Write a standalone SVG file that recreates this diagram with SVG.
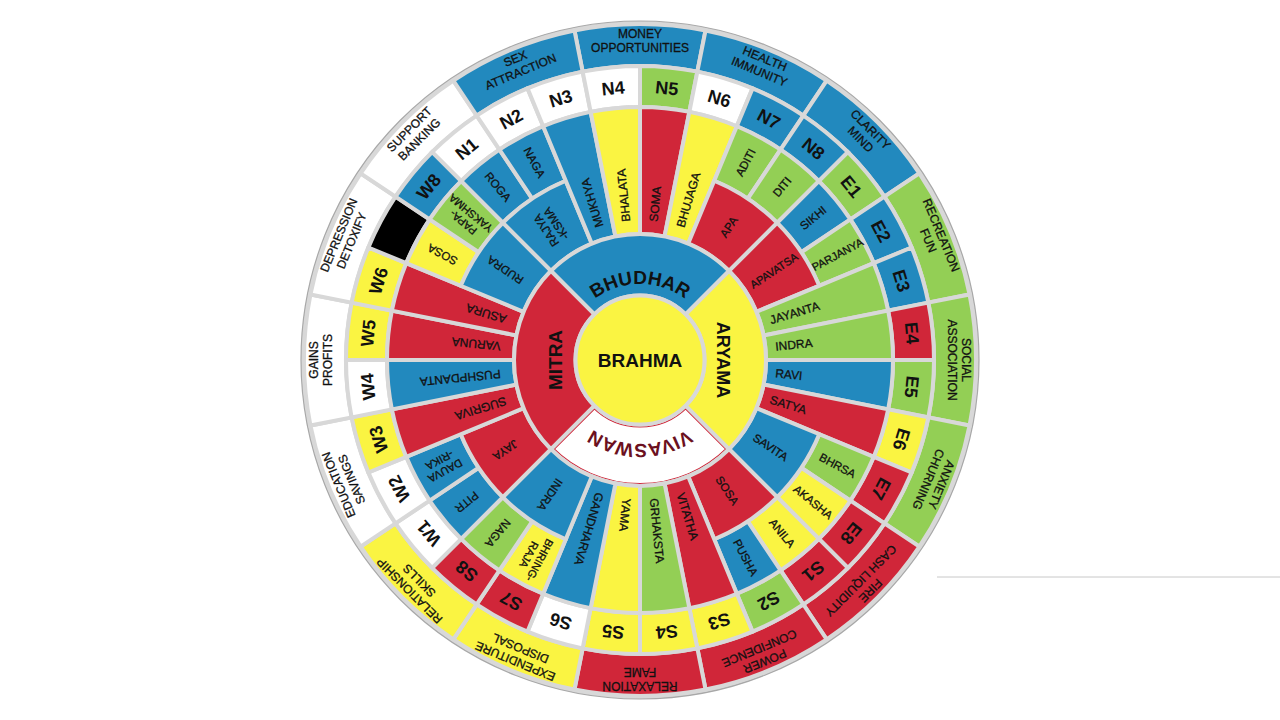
<svg xmlns="http://www.w3.org/2000/svg" width="1280" height="720" viewBox="0 0 1280 720">
<style>
.cell{stroke:#d8d8d8;stroke-width:4;stroke-linejoin:miter}
.b{fill:#2289be}.r{fill:#d02639}.y{fill:#faf442}.g{fill:#93cf55}.w{fill:#ffffff}.k{fill:#000000}
text{font-family:"Liberation Sans",Arial,sans-serif;fill:#111}
.z{font-size:12px;text-anchor:middle;stroke:#111;stroke-width:0.3}
.p{font-size:18px;font-weight:bold;text-anchor:middle}
.d{font-size:12px;text-anchor:start;stroke:#111;stroke-width:0.3}
.dm{font-size:11.5px;text-anchor:middle;stroke:#111;stroke-width:0.3}
.m{font-size:19px;font-weight:bold;text-anchor:middle}
</style>
<defs>
<path id="zone" d="M574.449,30.456 A336,336 0 0,1 705.551,30.456 L697.356,71.649 A294,294 0 0,0 582.644,71.649 Z"/>
<path id="pada" d="M640,66 A294,294 0 0,1 697.356,71.649 L689.358,111.861 A253,253 0 0,0 640,107 Z"/>
<path id="df" d="M640,107 A253,253 0 0,1 689.358,111.861 L664.581,236.421 A126,126 0 0,0 640,234 Z"/>
<path id="dco" d="M640,107 A253,253 0 0,1 689.358,111.861 L677.847,169.728 A194,194 0 0,0 640,166 Z"/>
<path id="dci" d="M640,166 A194,194 0 0,1 714.240,180.767 L688.218,243.591 A126,126 0 0,0 640,234 Z"/>
<path id="main" d="M550.905,270.905 A126,126 0 0,1 729.095,270.905 L685.608,314.392 A64.5,64.5 0 0,0 594.392,314.392 Z"/>
<path id="arcTop" d="M586.26,306.26 A76,76 0 0,1 693.74,306.26"/>
<path id="arcBot" d="M699.397,419.397 A84,84 0 0,1 580.603,419.397"/>
</defs>
<rect width="1280" height="720" fill="#ffffff"/>
<line x1="937" y1="577" x2="1280" y2="577" stroke="#c8c8c8" stroke-width="1"/>
<circle cx="640" cy="360" r="339" fill="#d8d8d8" stroke="#a8a8a8" stroke-width="1.2"/>

<g id="vivaswan">
<use href="#main" transform="rotate(180 640 360)" fill="#ffffff" stroke="#d02639" stroke-width="6"/>
<use href="#main" transform="rotate(180 640 360)" fill="none" stroke="#d8d8d8" stroke-width="4"/>
<text style="font-size:19px;font-weight:bold;fill:#6b1020;text-anchor:middle"><textPath href="#arcBot" startOffset="50%">VIVASWAN</textPath></text>
</g>

<g id="zones">
<g id="zone-n"><use href="#zone" class="cell b"/><text class="z"><tspan x="640" y="38">MONEY</tspan><tspan x="640" y="52">OPPORTUNITIES</tspan></text></g>
<g id="zone-nne"><use href="#zone" class="cell b" transform="rotate(22.5 640 360)"/><text class="z" transform="rotate(22.5 640 360)"><tspan x="640" y="38">HEALTH</tspan><tspan x="640" y="52">IMMUNITY</tspan></text></g>
<g id="zone-ne"><use href="#zone" class="cell b" transform="rotate(45 640 360)"/><text class="z" transform="rotate(45 640 360)"><tspan x="640" y="38">CLARITY</tspan><tspan x="640" y="52">MIND</tspan></text></g>
<g id="zone-ene"><use href="#zone" class="cell g" transform="rotate(67.5 640 360)"/><text class="z" transform="rotate(67.5 640 360)"><tspan x="640" y="38">RECREATION</tspan><tspan x="640" y="52">FUN</tspan></text></g>
<g id="zone-e"><use href="#zone" class="cell g" transform="rotate(90 640 360)"/><text class="z" transform="rotate(90 640 360)"><tspan x="640" y="38">SOCIAL</tspan><tspan x="640" y="52">ASSOCIATION</tspan></text></g>
<g id="zone-ese"><use href="#zone" class="cell g" transform="rotate(112.5 640 360)"/><text class="z" transform="rotate(112.5 640 360)"><tspan x="640" y="38">ANXIETY</tspan><tspan x="640" y="52">CHURNING</tspan></text></g>
<g id="zone-se"><use href="#zone" class="cell r" transform="rotate(135 640 360)"/><text class="z" transform="rotate(135 640 360)"><tspan x="640" y="38">FIRE</tspan><tspan x="640" y="52">CASH LIQUIDITY</tspan></text></g>
<g id="zone-sse"><use href="#zone" class="cell r" transform="rotate(157.5 640 360)"/><text class="z" transform="rotate(157.5 640 360)"><tspan x="640" y="38">POWER</tspan><tspan x="640" y="52">CONFIDENCE</tspan></text></g>
<g id="zone-s"><use href="#zone" class="cell r" transform="rotate(180 640 360)"/><text class="z" transform="rotate(180 640 360)"><tspan x="640" y="38">RELAXATION</tspan><tspan x="640" y="52">FAME</tspan></text></g>
<g id="zone-ssw"><use href="#zone" class="cell y" transform="rotate(202.5 640 360)"/><text class="z" transform="rotate(202.5 640 360)"><tspan x="640" y="38">EXPENDITURE</tspan><tspan x="640" y="52">DISPOSAL</tspan></text></g>
<g id="zone-sw"><use href="#zone" class="cell y" transform="rotate(225 640 360)"/><text class="z" transform="rotate(225 640 360)"><tspan x="640" y="38">RELATIONSHIP</tspan><tspan x="640" y="52">SKILLS</tspan></text></g>
<g id="zone-wsw"><use href="#zone" class="cell w" transform="rotate(247.5 640 360)"/><text class="z" transform="rotate(247.5 640 360)"><tspan x="640" y="38">EDUCATION</tspan><tspan x="640" y="52">SAVINGS</tspan></text></g>
<g id="zone-w"><use href="#zone" class="cell w" transform="rotate(270 640 360)"/><text class="z" transform="rotate(270 640 360)"><tspan x="640" y="38">GAINS</tspan><tspan x="640" y="52">PROFITS</tspan></text></g>
<g id="zone-wnw"><use href="#zone" class="cell w" transform="rotate(292.5 640 360)"/><text class="z" transform="rotate(292.5 640 360)"><tspan x="640" y="38">DEPRESSION</tspan><tspan x="640" y="52">DETOXIFY</tspan></text></g>
<g id="zone-nw"><use href="#zone" class="cell w" transform="rotate(315 640 360)"/><text class="z" transform="rotate(315 640 360)"><tspan x="640" y="38">SUPPORT</tspan><tspan x="640" y="52">BANKING</tspan></text></g>
<g id="zone-nnw"><use href="#zone" class="cell b" transform="rotate(337.5 640 360)"/><text class="z" transform="rotate(337.5 640 360)"><tspan x="640" y="38">SEX</tspan><tspan x="640" y="52">ATTRACTION</tspan></text></g>
</g>

<g id="padas">
<g id="pada-n1"><use href="#pada" class="cell w" transform="rotate(-45 640 360)"/><text class="p" transform="rotate(-39.375 640 360)" x="640" y="93">N1</text></g>
<g id="pada-n2"><use href="#pada" class="cell w" transform="rotate(-33.75 640 360)"/><text class="p" transform="rotate(-28.125 640 360)" x="640" y="93">N2</text></g>
<g id="pada-n3"><use href="#pada" class="cell w" transform="rotate(-22.5 640 360)"/><text class="p" transform="rotate(-16.875 640 360)" x="640" y="93">N3</text></g>
<g id="pada-n4"><use href="#pada" class="cell w" transform="rotate(-11.25 640 360)"/><text class="p" transform="rotate(-5.625 640 360)" x="640" y="93">N4</text></g>
<g id="pada-n5"><use href="#pada" class="cell g"/><text class="p" transform="rotate(5.625 640 360)" x="640" y="93">N5</text></g>
<g id="pada-n6"><use href="#pada" class="cell w" transform="rotate(11.25 640 360)"/><text class="p" transform="rotate(16.875 640 360)" x="640" y="93">N6</text></g>
<g id="pada-n7"><use href="#pada" class="cell b" transform="rotate(22.5 640 360)"/><text class="p" transform="rotate(28.125 640 360)" x="640" y="93">N7</text></g>
<g id="pada-n8"><use href="#pada" class="cell b" transform="rotate(33.75 640 360)"/><text class="p" transform="rotate(39.375 640 360)" x="640" y="93">N8</text></g>
<g id="pada-e1"><use href="#pada" class="cell g" transform="rotate(45 640 360)"/><text class="p" transform="rotate(50.625 640 360)" x="640" y="93">E1</text></g>
<g id="pada-e2"><use href="#pada" class="cell b" transform="rotate(56.25 640 360)"/><text class="p" transform="rotate(61.875 640 360)" x="640" y="93">E2</text></g>
<g id="pada-e3"><use href="#pada" class="cell b" transform="rotate(67.5 640 360)"/><text class="p" transform="rotate(73.125 640 360)" x="640" y="93">E3</text></g>
<g id="pada-e4"><use href="#pada" class="cell r" transform="rotate(78.75 640 360)"/><text class="p" transform="rotate(84.375 640 360)" x="640" y="93">E4</text></g>
<g id="pada-e5"><use href="#pada" class="cell g" transform="rotate(90 640 360)"/><text class="p" transform="rotate(95.625 640 360)" x="640" y="93">E5</text></g>
<g id="pada-e6"><use href="#pada" class="cell y" transform="rotate(101.25 640 360)"/><text class="p" transform="rotate(106.875 640 360)" x="640" y="93">E6</text></g>
<g id="pada-e7"><use href="#pada" class="cell r" transform="rotate(112.5 640 360)"/><text class="p" transform="rotate(118.125 640 360)" x="640" y="93">E7</text></g>
<g id="pada-e8"><use href="#pada" class="cell r" transform="rotate(123.75 640 360)"/><text class="p" transform="rotate(129.375 640 360)" x="640" y="93">E8</text></g>
<g id="pada-s1"><use href="#pada" class="cell r" transform="rotate(135 640 360)"/><text class="p" transform="rotate(140.625 640 360)" x="640" y="93">S1</text></g>
<g id="pada-s2"><use href="#pada" class="cell g" transform="rotate(146.25 640 360)"/><text class="p" transform="rotate(151.875 640 360)" x="640" y="93">S2</text></g>
<g id="pada-s3"><use href="#pada" class="cell y" transform="rotate(157.5 640 360)"/><text class="p" transform="rotate(163.125 640 360)" x="640" y="93">S3</text></g>
<g id="pada-s4"><use href="#pada" class="cell y" transform="rotate(168.75 640 360)"/><text class="p" transform="rotate(174.375 640 360)" x="640" y="93">S4</text></g>
<g id="pada-s5"><use href="#pada" class="cell y" transform="rotate(180 640 360)"/><text class="p" transform="rotate(185.625 640 360)" x="640" y="93">S5</text></g>
<g id="pada-s6"><use href="#pada" class="cell w" transform="rotate(191.25 640 360)"/><text class="p" transform="rotate(196.875 640 360)" x="640" y="93">S6</text></g>
<g id="pada-s7"><use href="#pada" class="cell r" transform="rotate(202.5 640 360)"/><text class="p" transform="rotate(208.125 640 360)" x="640" y="93">S7</text></g>
<g id="pada-s8"><use href="#pada" class="cell r" transform="rotate(213.75 640 360)"/><text class="p" transform="rotate(219.375 640 360)" x="640" y="93">S8</text></g>
<g id="pada-w1"><use href="#pada" class="cell w" transform="rotate(225 640 360)"/><text class="p" transform="rotate(230.625 640 360)" x="640" y="93">W1</text></g>
<g id="pada-w2"><use href="#pada" class="cell w" transform="rotate(236.25 640 360)"/><text class="p" transform="rotate(241.875 640 360)" x="640" y="93">W2</text></g>
<g id="pada-w3"><use href="#pada" class="cell y" transform="rotate(247.5 640 360)"/><text class="p" transform="rotate(253.125 640 360)" x="640" y="93">W3</text></g>
<g id="pada-w4"><use href="#pada" class="cell w" transform="rotate(258.75 640 360)"/><text class="p" transform="rotate(264.375 640 360)" x="640" y="93">W4</text></g>
<g id="pada-w5"><use href="#pada" class="cell y" transform="rotate(270 640 360)"/><text class="p" transform="rotate(275.625 640 360)" x="640" y="93">W5</text></g>
<g id="pada-w6"><use href="#pada" class="cell y" transform="rotate(281.25 640 360)"/><text class="p" transform="rotate(286.875 640 360)" x="640" y="93">W6</text></g>
<g id="pada-w7"><use href="#pada" class="cell k" transform="rotate(292.5 640 360)"/></g>
<g id="pada-w8"><use href="#pada" class="cell b" transform="rotate(303.75 640 360)"/><text class="p" transform="rotate(309.375 640 360)" x="640" y="93">W8</text></g>
</g>

<g id="devatas">
<g id="d-roga"><use href="#dco" class="cell b" transform="rotate(-45 640 360)"/><text class="dm" transform="rotate(50.625 640 360)" x="416" y="364">ROGA</text></g>
<g id="d-naga-n"><use href="#dco" class="cell b" transform="rotate(-33.75 640 360)"/><text class="dm" transform="rotate(61.875 640 360)" x="416" y="364">NAGA</text></g>
<g id="d-rajyaksma"><use href="#dci" class="cell b" transform="rotate(-45 640 360)"/><text class="dm" transform="rotate(-123.75 640 360)"><tspan x="800" y="358">RAJYA</tspan><tspan x="800" y="370">-KSMA</tspan></text></g>
<g id="d-mukhya"><use href="#df" class="cell b" transform="rotate(-22.5 640 360)"/><text class="d" transform="rotate(-106.875 640 360)" x="779" y="364">MUKHYA</text></g>
<g id="d-bhalata"><use href="#df" class="cell y" transform="rotate(-11.25 640 360)"/><text class="d" transform="rotate(-95.625 640 360)" x="779" y="364">BHALATA</text></g>
<g id="d-soma"><use href="#df" class="cell r"/><text class="d" transform="rotate(-84.375 640 360)" x="779" y="364">SOMA</text></g>
<g id="d-bhujaga"><use href="#df" class="cell y" transform="rotate(11.25 640 360)"/><text class="d" transform="rotate(-73.125 640 360)" x="779" y="364">BHUJAGA</text></g>
<g id="d-aditi"><use href="#dco" class="cell g" transform="rotate(22.5 640 360)"/><text class="dm" transform="rotate(-61.875 640 360)" x="864" y="364">ADITI</text></g>
<g id="d-diti"><use href="#dco" class="cell g" transform="rotate(33.75 640 360)"/><text class="dm" transform="rotate(-50.625 640 360)" x="864" y="364">DITI</text></g>
<g id="d-apa"><use href="#dci" class="cell r" transform="rotate(22.5 640 360)"/><text class="dm" transform="rotate(-56.25 640 360)" x="800" y="364">APA</text></g>
<g id="d-sikhi"><use href="#dco" class="cell b" transform="rotate(45 640 360)"/><text class="dm" transform="rotate(-39.375 640 360)" x="864" y="364">SIKHI</text></g>
<g id="d-parjanya"><use href="#dco" class="cell g" transform="rotate(56.25 640 360)"/><text class="dm" style="font-size:11px" transform="rotate(-28.125 640 360)" x="864" y="364">PARJANYA</text></g>
<g id="d-apavatsa"><use href="#dci" class="cell r" transform="rotate(45 640 360)"/><text class="dm" style="font-size:11px" transform="rotate(-33.75 640 360)" x="801" y="364">APAVATSA</text></g>
<g id="d-jayanta"><use href="#df" class="cell g" transform="rotate(67.5 640 360)"/><text class="d" transform="rotate(-16.875 640 360)" x="776" y="364">JAYANTA</text></g>
<g id="d-indra-e"><use href="#df" class="cell g" transform="rotate(78.75 640 360)"/><text class="d" transform="rotate(-5.625 640 360)" x="776" y="364">INDRA</text></g>
<g id="d-ravi"><use href="#df" class="cell b" transform="rotate(90 640 360)"/><text class="d" transform="rotate(5.625 640 360)" x="776" y="364">RAVI</text></g>
<g id="d-satya"><use href="#df" class="cell r" transform="rotate(101.25 640 360)"/><text class="d" transform="rotate(16.875 640 360)" x="776" y="364">SATYA</text></g>
<g id="d-bhrsa"><use href="#dco" class="cell g" transform="rotate(112.5 640 360)"/><text class="dm" transform="rotate(28.125 640 360)" x="864" y="364">BHRSA</text></g>
<g id="d-akasha"><use href="#dco" class="cell y" transform="rotate(123.75 640 360)"/><text class="dm" transform="rotate(39.375 640 360)" x="864" y="364">AKASHA</text></g>
<g id="d-savita"><use href="#dci" class="cell b" transform="rotate(112.5 640 360)"/><text class="dm" transform="rotate(33.75 640 360)" x="797" y="364">SAVITA</text></g>
<g id="d-anila"><use href="#dco" class="cell y" transform="rotate(135 640 360)"/><text class="dm" transform="rotate(50.625 640 360)" x="864" y="364">ANILA</text></g>
<g id="d-pusha"><use href="#dco" class="cell b" transform="rotate(146.25 640 360)"/><text class="dm" transform="rotate(61.875 640 360)" x="864" y="364">PUSHA</text></g>
<g id="d-sosa-s"><use href="#dci" class="cell r" transform="rotate(135 640 360)"/><text class="dm" transform="rotate(56.25 640 360)" x="797" y="364">SOSA</text></g>
<g id="d-vitatha"><use href="#df" class="cell r" transform="rotate(157.5 640 360)"/><text class="d" transform="rotate(73.125 640 360)" x="779" y="364">VITATHA</text></g>
<g id="d-grhaksta"><use href="#df" class="cell g" transform="rotate(168.75 640 360)"/><text class="d" transform="rotate(84.375 640 360)" x="779" y="364">GRHAKSTA</text></g>
<g id="d-yama"><use href="#df" class="cell y" transform="rotate(180 640 360)"/><text class="d" transform="rotate(95.625 640 360)" x="779" y="364">YAMA</text></g>
<g id="d-gandharva"><use href="#df" class="cell b" transform="rotate(191.25 640 360)"/><text class="d" transform="rotate(106.875 640 360)" x="779" y="364">GANDHARVA</text></g>
<g id="d-bhringraja"><use href="#dco" class="cell y" transform="rotate(202.5 640 360)"/><text class="dm" style="font-size:11px" transform="rotate(118.125 640 360)"><tspan x="864" y="358">BHRING-</tspan><tspan x="864" y="370">RAJA</tspan></text></g>
<g id="d-naga-s"><use href="#dco" class="cell g" transform="rotate(213.75 640 360)"/><text class="dm" transform="rotate(129.375 640 360)" x="864" y="364">NAGA</text></g>
<g id="d-indra-sw"><use href="#dci" class="cell b" transform="rotate(202.5 640 360)"/><text class="dm" transform="rotate(123.75 640 360)" x="802" y="364">INDRA</text></g>
<g id="d-pitr"><use href="#dco" class="cell b" transform="rotate(225 640 360)"/><text class="dm" transform="rotate(140.625 640 360)" x="864" y="364">PITR</text></g>
<g id="d-dauvarika"><use href="#dco" class="cell b" transform="rotate(236.25 640 360)"/><text class="dm" style="font-size:11px" transform="rotate(151.875 640 360)"><tspan x="864" y="358">DAUVA</tspan><tspan x="864" y="370">-RIKA</tspan></text></g>
<g id="d-jaya"><use href="#dci" class="cell r" transform="rotate(225 640 360)"/><text class="dm" transform="rotate(146.25 640 360)" x="802" y="364">JAYA</text></g>
<g id="d-sugriva"><use href="#df" class="cell r" transform="rotate(247.5 640 360)"/><text class="d" transform="rotate(163.125 640 360)" x="780" y="364">SUGRIVA</text></g>
<g id="d-pushpdanta"><use href="#df" class="cell b" transform="rotate(258.75 640 360)"/><text class="d" transform="rotate(174.375 640 360)" x="780" y="364">PUSHPDANTA</text></g>
<g id="d-varuna"><use href="#df" class="cell r" transform="rotate(270 640 360)"/><text class="d" transform="rotate(185.625 640 360)" x="780" y="364">VARUNA</text></g>
<g id="d-asura"><use href="#df" class="cell r" transform="rotate(281.25 640 360)"/><text class="d" transform="rotate(196.875 640 360)" x="780" y="364">ASURA</text></g>
<g id="d-sosa-w"><use href="#dco" class="cell y" transform="rotate(292.5 640 360)"/><text class="dm" transform="rotate(208.125 640 360)" x="864" y="364">SOSA</text></g>
<g id="d-papayakshma"><use href="#dco" class="cell g" transform="rotate(303.75 640 360)"/><text class="dm" style="font-size:11px" transform="rotate(219.375 640 360)"><tspan x="864" y="358">PAPA-</tspan><tspan x="864" y="370">YAKSHMA</tspan></text></g>
<g id="d-rudra"><use href="#dci" class="cell b" transform="rotate(292.5 640 360)"/><text class="dm" transform="rotate(213.75 640 360)" x="802" y="364">RUDRA</text></g>
</g>

<g id="bhudhar"><use href="#main" class="cell b"/><text class="m"><textPath href="#arcTop" startOffset="50%">BHUDHAR</textPath></text></g>
<g id="aryama"><use href="#main" class="cell y" transform="rotate(90 640 360)"/><text class="m" style="font-size:18px" transform="rotate(90 640 360)" x="640" y="283">ARYAMA</text></g>
<g id="mitra"><use href="#main" class="cell r" transform="rotate(270 640 360)"/><text class="m" transform="rotate(270 640 360)" x="640" y="282">MITRA</text></g>
<g id="brahma"><circle cx="640" cy="360" r="64.5" class="cell y"/><text class="m" x="640" y="367">BRAHMA</text></g>
</svg>
